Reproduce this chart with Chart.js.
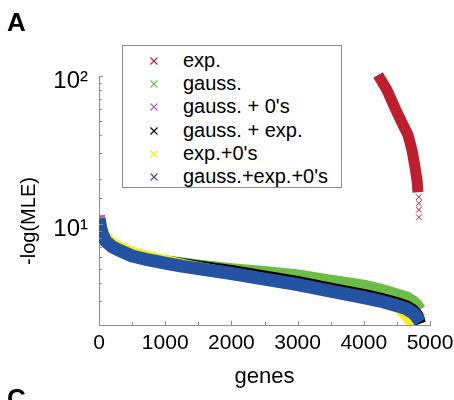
<!DOCTYPE html>
<html>
<head>
<meta charset="utf-8">
<script src="https://cdn.jsdelivr.net/npm/chart.js@4.4.1/dist/chart.umd.min.js"></script>
<style>
    body { margin: 0; background: #fff; font-family: "Liberation Sans", Arial, sans-serif; }
    #wrap { position: relative; width: 454px; height: 400px; overflow: hidden; }
    .panel { position: absolute; font-size: 26px; line-height: 26px; font-weight: bold; color: #000; }
    #ytitle { position: absolute; left: -32px; top: 209px; width: 120px; height: 24px; line-height: 24px;
              font-size: 20px; text-align: center; transform: rotate(-90deg); color: #000; }
    #legend { position: absolute; left: 122px; top: 45px; width: 218px; height: 141px;
              border: 1px solid #8c8c8c; background: #fff; }
    #legend .row { position: absolute; left: 0; width: 100%; height: 23px; line-height: 23px; font-size: 20px; color: #000; }
    #legend svg { position: absolute; left: 27px; top: 8px; }
    #legend span { position: absolute; left: 60px; white-space: nowrap; }
</style>
</head>
<body>
<div id="wrap">
    <canvas id="MyChart" width="454" height="400"></canvas>
    <div class="panel" style="left:7px; top:9px;">A</div>
    <div class="panel" style="left:7px; top:385px;">C</div>
    <div id="ytitle">-log(MLE)</div>
    <div id="legend"></div>
</div>
<script>
// values (gene rank vs -log(MLE))
var genes = [0, 25, 50, 100, 200, 300, 500, 750, 1000, 1250, 1500, 2000, 2500, 3000, 3500, 4000, 4250, 4500, 4650, 4750, 4800, 4850];
var gaussVals = [10.9, 9.4, 8.6, 7.7, 7.05, 6.72, 6.18, 5.85, 5.62, 5.42, 5.25, 4.96, 4.74, 4.49, 4.15, 3.84, 3.61, 3.34, 3.19, 2.99, 2.86, 2.64];
var gaussZerosVals = [11.4, 9.5, 8.6, 7.75, 7.1, 6.78, 6.2, 5.82, 5.58, 5.33, 5.12, 4.72, 4.33, 3.98, 3.59, 3.25, 3.08, 2.87, 2.75, 2.6, 2.45, 2.3];
var gaussExpVals = [10.9, 9.5, 8.7, 7.8, 7.15, 6.8, 6.22, 5.85, 5.6, 5.38, 5.18, 4.82, 4.42, 4.06, 3.66, 3.32, 3.14, 2.93, 2.78, 2.6, 2.45, 2.12];
var expZerosVals = [10.9, 9.9, 9.0, 8.1, 7.4, 7.0, 6.4, 5.98, 5.65, 5.33, 5.05, 4.62, 4.24, 3.89, 3.5, 3.17, 3.0, 2.8, 2.4, 2.12, null, null];
var gaussExpZerosVals = [10.9, 9.4, 8.55, 7.67, 7.0, 6.67, 6.08, 5.72, 5.45, 5.2, 5.0, 4.63, 4.25, 3.90, 3.52, 3.19, 3.02, 2.81, 2.67, 2.50, 2.36, 2.18];

// the exp. fit only exists for the last genes
var expGenes = [4215, 4350, 4471, 4592, 4668, 4728, 4773, 4804, 4819];
var expVals = [101.6, 80.4, 60.8, 46.7, 39.9, 31.6, 24.3, 19.8, 16.4];
var expTailGenes = [4830, 4831, 4832, 4833];
var expTailVals = [15.2, 13.8, 12.5, 11.1];

var xTicks = [0, 1000, 2000, 3000, 4000, 5000];
var yRange = [2.08, 100];

var axisColor = '#8c8c8c';

function toPoints(xs, ys) {
    var pts = [];
    for (var i = 0; i < xs.length; i++) {
        if (ys[i] !== null) pts.push({ x: xs[i], y: ys[i] });
    }
    return pts;
}

function isDecade(v) {
    var l = Math.log10(v);
    return Math.abs(l - Math.round(l)) < 1e-9;
}

function band(label, xs, ys, color, order) {
    return {
        label: label,
        data: toPoints(xs, ys),
        showLine: true,
        borderColor: color,
        backgroundColor: color,
        borderWidth: 12,
        borderJoinStyle: 'round',
        pointRadius: 0,
        pointHoverRadius: 0,
        order: order
    };
}

// ticks pointing into the plot, like the original axes
var insideTicks = {
    id: 'insideTicks',
    afterDraw: function (chart) {
        var ctx = chart.ctx;
        var area = chart.chartArea;
        var xs = chart.scales.x;
        var ys = chart.scales.y;
        ctx.save();
        ctx.strokeStyle = axisColor;
        ctx.lineWidth = 1;
        ctx.beginPath();
        xs.ticks.forEach(function (t) {
            var px = Math.round(xs.getPixelForValue(t.value)) + 0.5;
            ctx.moveTo(px, area.bottom);
            ctx.lineTo(px, area.bottom - (t.value % 1000 === 0 ? 4 : 3));
        });
        ys.ticks.forEach(function (t) {
            if (t.value <= ys.min + 1e-6) return;
            var py = Math.round(ys.getPixelForValue(t.value)) + 0.5;
            ctx.moveTo(area.left, py);
            ctx.lineTo(area.left + (isDecade(t.value) ? 4 : 3), py);
        });
        ctx.stroke();
        ctx.restore();
    }
};

// legend drawn as html box inside the plot
var htmlLegend = {
    id: 'htmlLegend',
    afterUpdate: function (chart) {
        var box = document.getElementById('legend');
        box.innerHTML = '';
        var n = 0;
        chart.data.datasets.forEach(function (ds) {
            if (ds.noLegend) return;
            var row = document.createElement('div');
            row.className = 'row';
            row.style.top = (3 + 23.2 * n) + 'px';
            row.innerHTML = '<svg width="8" height="8"><path d="M0.5 0.5L7.5 7.5M7.5 0.5L0.5 7.5" stroke="' +
                ds.borderColor + '" stroke-width="1.1" fill="none"/></svg><span>' + ds.label + '</span>';
            box.appendChild(row);
            n++;
        });
    }
};

document.addEventListener('DOMContentLoaded', function () {
    var tail = {
        label: 'exp. tail',
        noLegend: true,
        data: toPoints(expTailGenes, expTailVals),
        showLine: false,
        pointStyle: 'crossRot',
        pointRadius: 4,
        pointHoverRadius: 4,
        borderColor: '#BE1E2D',
        borderWidth: 1,
        order: 6
    };
    var red = band('exp.', expGenes, expVals, '#BE1E2D', 5);
    red.borderWidth = 11;
    red.clip = false;
    var blue = band("gauss.+exp.+0's", genes, gaussExpZerosVals, '#2453A3', 0);
    blue.borderWidth = 13;

    var ctx = document.getElementById('MyChart').getContext('2d');
    var MyChart = new Chart(ctx, {
        type: 'scatter',
        data: {
            datasets: [
                red,
                band('gauss.', genes, gaussVals, '#6CBD45', 4),
                band("gauss. + 0's", genes, gaussZerosVals, '#B15BA8', 3),
                band('gauss. + exp.', genes, gaussExpVals, '#000000', 2),
                band("exp.+0's", genes, expZerosVals, '#F7EE1C', 1),
                blue,
                tail
            ]
        },
        options: {
            responsive: false,
            animation: false,
            layout: { padding: { top: 76, right: 24, bottom: 0, left: 0 } },
            plugins: {
                legend: { display: false },
                tooltip: { enabled: false }
            },
            scales: {
                x: {
                    type: 'linear',
                    min: 0,
                    max: 5000,
                    grid: { display: false, drawTicks: false, tickLength: 0 },
                    border: { display: true, color: axisColor, width: 1 },
                    ticks: {
                        stepSize: 500,
                        autoSkip: false,
                        maxRotation: 0,
                        padding: 6,
                        color: '#000',
                        font: { family: 'Liberation Sans', size: 21 },
                        callback: function (v) { return xTicks.indexOf(v) >= 0 ? String(v) : ''; }
                    },
                    title: {
                        display: true,
                        text: 'genes',
                        color: '#000',
                        font: { family: 'Liberation Sans', size: 22 },
                        padding: { top: 0, bottom: 10 }
                    },
                    afterFit: function (s) { s.height = 75; s.paddingLeft = 0; s.paddingRight = 0; }
                },
                y: {
                    type: 'logarithmic',
                    min: yRange[0],
                    max: yRange[1],
                    grid: { display: false, drawTicks: false, tickLength: 0 },
                    border: { display: true, color: axisColor, width: 1 },
                    ticks: {
                        autoSkip: false,
                        padding: 11,
                        labelOffset: 5,
                        color: '#000',
                        font: { family: 'Liberation Sans', size: 24 },
                        callback: function (v) {
                            if (!isDecade(v)) return '';
                            return Math.round(Math.log10(v)) === 2 ? '10\u00b2' : '10\u00b9';
                        }
                    },
                    afterFit: function (s) { s.width = 99; s.paddingTop = 0; s.paddingBottom = 0; }
                }
            }
        },
        plugins: [insideTicks, htmlLegend]
    });
});
</script>
</body>
</html>
